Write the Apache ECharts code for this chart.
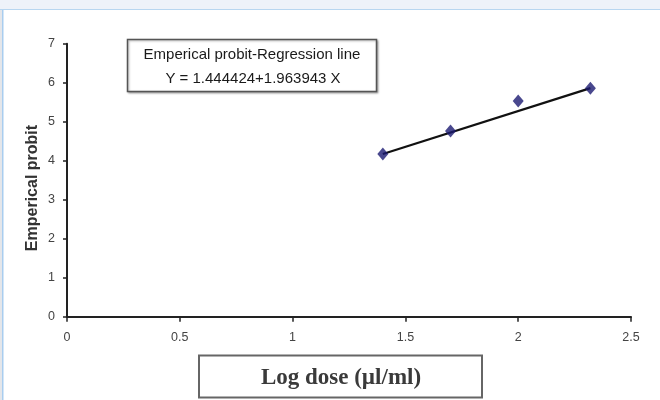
<!DOCTYPE html>
<html>
<head>
<meta charset="utf-8">
<script src="https://cdn.jsdelivr.net/npm/echarts@6/dist/echarts.min.js"></script>
<style>
  html, body { margin: 0; padding: 0; background: #fff; }
  #chart { width: 660px; height: 400px; }
</style>
</head>
<body>
<div id="chart"></div>
<script>
// data
var logDose = [1.4, 1.7, 2.0, 2.32];
var probit = [4.17, 4.76, 5.53, 5.86];
// regression line as drawn (end points)
var lineX = [1.4, 2.32];
var lineY = [4.17, 5.86];
var legendLines = ['Emperical probit-Regression line', 'Y = 1.444424+1.963943 X'];
var xTitle = 'Log dose (\u00b5l/ml)';
var yTitle = 'Emperical probit';

var chart = echarts.init(document.getElementById('chart'));

var pts = logDose.map(function (x, i) { return [x, probit[i]]; });
var reg = lineX.map(function (x, i) { return [x, lineY[i]]; });

chart.setOption({
	animation : false,
	backgroundColor : '#fff',
	grid : {
		left : 67,
		right : 29,
		top : 43.7,
		bottom : 83.3
	},
	xAxis : {
		type : 'value',
		min : 0,
		max : 2.5,
		interval : 0.5,
		splitLine : { show : false },
		axisLine : { lineStyle : { color : '#222', width : 2 } },
		axisTick : { length : 5, lineStyle : { color : '#222', width : 1.5 } },
		axisLabel : {
			margin : 14,
			color : '#444',
			fontFamily : 'Liberation Sans',
			fontSize : 12.5
		}
	},
	yAxis : {
		type : 'value',
		min : 0,
		max : 7,
		interval : 1,
		splitLine : { show : false },
		axisLine : { show : true, lineStyle : { color : '#222', width : 2 } },
		axisTick : { show : true, length : 4, lineStyle : { color : '#222', width : 1.5 } },
		axisLabel : {
			margin : 12,
			color : '#444',
			fontFamily : 'Liberation Sans',
			fontSize : 12.5
		}
	},
	series : [ {
		name : 'regression',
		type : 'line',
		data : reg,
		symbol : 'none',
		lineStyle : { color : '#111', width : 2.2 },
		z : 2
	}, {
		name : 'probit',
		type : 'scatter',
		data : pts,
		symbol : 'diamond',
		symbolSize : [11, 13],
		itemStyle : { color : '#1c1a72' },
		z : 3
	} ],
	graphic : [
		// page frame bits
		{ type : 'rect', shape : { x : 0, y : 0, width : 660, height : 9 }, style : { fill : '#eef2f9' }, silent : true },
		{ type : 'rect', shape : { x : 0, y : 9, width : 660, height : 1 }, style : { fill : '#b8d6f0' }, silent : true },
		{ type : 'rect', shape : { x : 0, y : 10, width : 2, height : 390 }, style : { fill : '#e4e6ea' }, silent : true },
		{ type : 'rect', shape : { x : 2, y : 10, width : 1.5, height : 390 }, style : { fill : '#a9cdef' }, silent : true },
		// legend box
		{
			type : 'rect',
			shape : { x : 127.5, y : 39.5, width : 249, height : 52 },
			style : { fill : '#fff', stroke : '#555', lineWidth : 1.5, shadowBlur : 2, shadowOffsetX : 1, shadowOffsetY : 1, shadowColor : 'rgba(0,0,0,0.3)' },
			z : 10
		},
		{
			type : 'text', x : 252, y : 55, z : 11,
			style : { text : legendLines[0], fill : '#1a1a1a', font : '15px "Liberation Sans"', align : 'center', verticalAlign : 'middle' }
		},
		{
			type : 'text', x : 253, y : 79, z : 11,
			style : { text : legendLines[1], fill : '#1a1a1a', font : '15px "Liberation Sans"', align : 'center', verticalAlign : 'middle' }
		},
		// y title
		{
			type : 'text', x : 33, y : 188, rotation : Math.PI / 2, z : 11,
			style : { text : yTitle, fill : '#333', font : 'bold 16px "Liberation Sans"', align : 'center', verticalAlign : 'middle' }
		},
		// x title box
		{
			type : 'rect',
			shape : { x : 199, y : 355.5, width : 283, height : 42 },
			style : { fill : '#fff', stroke : '#666', lineWidth : 2 },
			z : 10
		},
		{
			type : 'text', x : 341, y : 378, z : 11,
			style : { text : xTitle, fill : '#3a3a3a', font : 'bold 23px "Liberation Serif"', align : 'center', verticalAlign : 'middle' }
		}
	]
});
</script>
</body>
</html>
